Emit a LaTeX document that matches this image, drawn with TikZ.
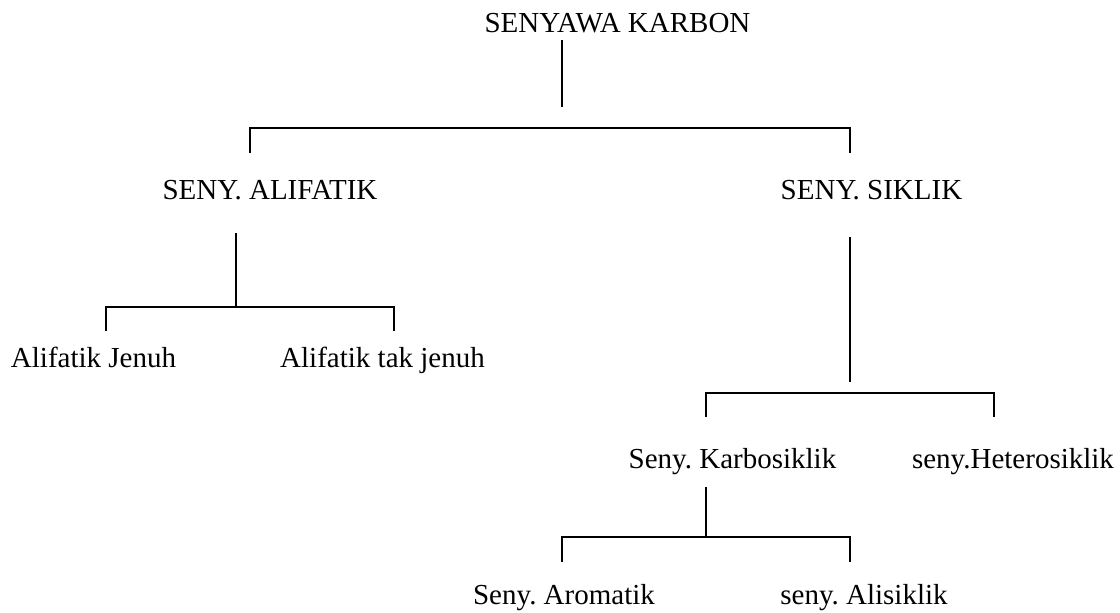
\documentclass[tikz,border=0pt]{standalone}
\usepackage{fontspec}
\setmainfont{Liberation Serif}
\usepackage{tikz}
\frenchspacing

\begin{document}
\begin{tikzpicture}[x=0.5pt,y=-0.5pt,line width=0.9pt,
    lbl/.style={anchor=base,inner sep=0pt,font=\fontsize{14.5}{17}\selectfont}] % 1 unit = 1 px
				\useasboundingbox (0,0) rectangle (1120,612);
				% nama senyawa
				\node[lbl](karbon) at (617.5,32) {SENYAWA KARBON};
				\node[lbl](alifatik) at (270,199) {SENY. ALIFATIK};
				\node[lbl](siklik) at (871.5,199) {SENY. SIKLIK};
				\node[lbl](jenuh) at (93.5,367) {Alifatik Jenuh};
				\node[lbl](takjenuh) at (382.5,367) {Alifatik tak jenuh};
				\node[lbl](karbosiklik) at (732.5,468) {Seny. Karbosiklik};
				\node[lbl](hetero) at (1013,468) {seny.Heterosiklik};
				\node[lbl](aromatik) at (564,604) {Seny. Aromatik};
				\node[lbl](alisiklik) at (864,604) {seny. Alisiklik};
				% titik cabang
				\coordinate (s1a) at (562,40);\coordinate (s1b) at (562,107);
				\coordinate (b1l) at (250,128);\coordinate (b1r) at (850,128);
				\coordinate (s2a) at (236,233);\coordinate (s2b) at (236,307);
				\coordinate (b2l) at (106,307);\coordinate (b2r) at (394,307);
				\coordinate (s3a) at (850,237);\coordinate (s3b) at (850,382);
				\coordinate (b3l) at (706,393);\coordinate (b3r) at (994,393);
				\coordinate (s4a) at (706,487);\coordinate (s4b) at (706,537);
				\coordinate (b4l) at (562,537);\coordinate (b4r) at (850,537);
				% garis
				\draw (s1a) -- (s1b);
				\draw (b1l) ++(0,25) -- (b1l) -- (b1r) -- ++(0,25);
				\draw (s2a) -- (s2b);
				\draw (b2l) ++(0,24) -- (b2l) -- (b2r) -- ++(0,24);
				\draw (s3a) -- (s3b);
				\draw (b3l) ++(0,24) -- (b3l) -- (b3r) -- ++(0,24);
				\draw (s4a) -- (s4b);
				\draw (b4l) ++(0,25) -- (b4l) -- (b4r) -- ++(0,25);
			\end{tikzpicture}
\end{document}
